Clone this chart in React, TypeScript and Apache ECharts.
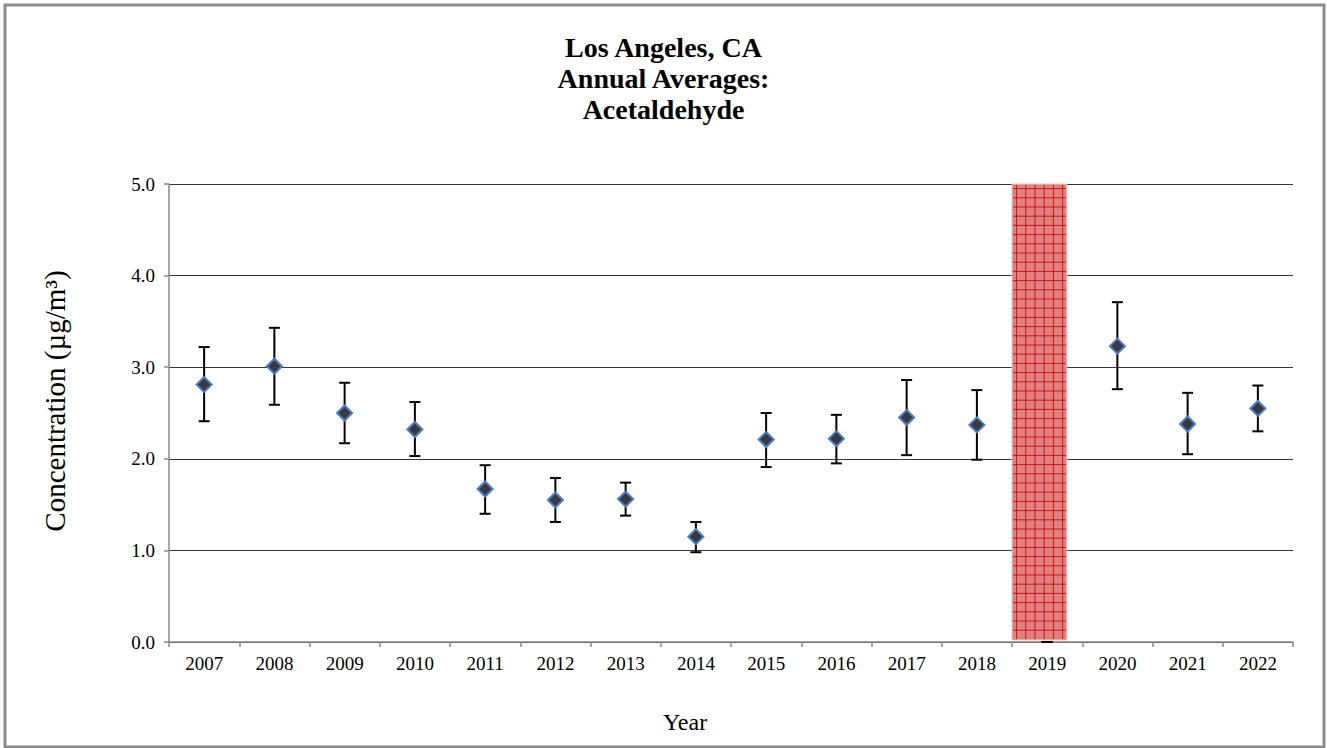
import React, { useEffect, useRef } from "react";
import * as echarts from "echarts";

const years = ["2007","2008","2009","2010","2011","2012","2013","2014","2015","2016","2017","2018","2019","2020","2021","2022"];
const means: (number | null)[] = [2.81, 3.01, 2.50, 2.32, 1.67, 1.55, 1.56, 1.15, 2.21, 2.22, 2.45, 2.37, null, 3.23, 2.38, 2.55];
const upper = [3.22, 3.43, 2.83, 2.62, 1.93, 1.79, 1.74, 1.31, 2.50, 2.48, 2.86, 2.75, 0, 3.71, 2.72, 2.80];
const lower = [2.41, 2.59, 2.17, 2.03, 1.40, 1.31, 1.38, 0.98, 1.91, 1.95, 2.04, 1.99, 0, 2.76, 2.05, 2.30];
const shadedYears = ["2019"];
const shadedTop = [5.0];
const yTicks = { min: 0, max: 5, interval: 1 };

const FONT = "Liberation Serif";

export default function App() {
  const ref = useRef<HTMLDivElement>(null);
  useEffect(() => {
    if (!ref.current) return;
    const chart = echarts.init(ref.current, undefined, { renderer: "svg" });
    const shadeData = shadedYears.map((y, i) => [years.indexOf(y), shadedTop[i]]);
    const errData = years.map((_, i) => [i, upper[i], lower[i]]);
    chart.setOption({
      animation: false,
      backgroundColor: "#fff",
      textStyle: { fontFamily: FONT },
      title: {
        text: "Los Angeles, CA\nAnnual Averages:\nAcetaldehyde",
        left: "center",
        top: 27,
        textStyle: { fontFamily: FONT, fontSize: 28, fontWeight: "bold", lineHeight: 31, color: "#000" },
      },
      graphic: [
        {
          type: "rect",
          shape: { x: 5, y: 5, width: 1319, height: 742 },
          style: { fill: "none", stroke: "#8c8c8c", lineWidth: 3 },
          silent: true,
        },
      ],
      grid: { left: 169, right: 34, top: 184, bottom: 106, containLabel: false },
      xAxis: {
        type: "category",
        data: years,
        boundaryGap: true,
        name: "Year",
        nameLocation: "middle",
        nameGap: 68,
        nameTextStyle: { fontFamily: FONT, fontSize: 24, color: "#000", padding: [0, 92, 0, 0] },
        axisLine: { lineStyle: { color: "#8a8a8a", width: 1.5 } },
        axisTick: { show: true, alignWithLabel: false, length: 5, lineStyle: { color: "#8a8a8a", width: 1.5 } },
        axisLabel: { fontFamily: FONT, fontSize: 19, color: "#000", margin: 12 },
        splitLine: { show: false },
      },
      yAxis: {
        type: "value",
        min: yTicks.min,
        max: yTicks.max,
        interval: yTicks.interval,
        name: "Concentration (µg/m³)",
        nameLocation: "middle",
        nameGap: 100,
        nameTextStyle: { fontFamily: FONT, fontSize: 29, color: "#000", padding: [0, 0, 0, 24] },
        axisLine: { show: true, lineStyle: { color: "#8a8a8a", width: 1.5 } },
        axisTick: { show: true, length: 5, lineStyle: { color: "#8a8a8a", width: 1.5 } },
        axisLabel: {
          fontFamily: FONT, fontSize: 19, color: "#000", margin: 14,
          formatter: (v: number) => v.toFixed(1),
        },
        splitLine: { show: true, lineStyle: { color: "#363636", width: 1 } },
      },
      series: [
        {
          type: "custom",
          name: "No data",
          z: 1,
          data: shadeData,
          renderItem: (params: any, api: any) => {
            const idx = api.value(0);
            const top = api.coord([idx, api.value(1)]);
            const bottom = api.coord([idx, 0]);
            const band = api.size([1, 0])[0];
            const left = top[0] - band / 2;
            const width = band * 0.78;
            const y0 = top[1];
            const y1 = bottom[1] - 2;
            const children: any[] = [
              {
                type: "rect",
                shape: { x: left, y: y0, width, height: y1 - y0 },
                style: { fill: "#e08080", stroke: "#e8c4b4", lineWidth: 1 },
              },
            ];
            const step = 9.2;
            for (let x = left + 4.6; x < left + width - 1; x += step) {
              children.push({
                type: "line",
                shape: { x1: x, y1: y0 + 1, x2: x, y2: y1 - 1 },
                style: { stroke: "#cc1414", lineWidth: 1 },
              });
            }
            for (let y = y0 + 4.6; y < y1 - 1; y += step) {
              children.push({
                type: "line",
                shape: { x1: left + 1, y1: y, x2: left + width - 1, y2: y },
                style: { stroke: "#cc1414", lineWidth: 1 },
              });
            }
            return { type: "group", children };
          },
        },
        {
          type: "custom",
          name: "Error",
          z: 3,
          data: errData,
          renderItem: (params: any, api: any) => {
            const idx = api.value(0);
            const hi = api.coord([idx, api.value(1)]);
            const lo = api.coord([idx, api.value(2)]);
            const cap = 5.5;
            const style = { stroke: "#000", lineWidth: 2 };
            return {
              type: "group",
              children: [
                { type: "line", shape: { x1: hi[0], y1: hi[1], x2: lo[0], y2: lo[1] }, style },
                { type: "line", shape: { x1: hi[0] - cap, y1: hi[1], x2: hi[0] + cap, y2: hi[1] }, style },
                { type: "line", shape: { x1: lo[0] - cap, y1: lo[1], x2: lo[0] + cap, y2: lo[1] }, style },
              ],
            };
          },
        },
        {
          type: "scatter",
          name: "Annual Average",
          z: 4,
          symbol: "diamond",
          symbolSize: 15,
          data: means.map((v) => (v === null ? "-" : v)),
          itemStyle: { color: "#3a3a3a", borderColor: "#4a7bd0", borderWidth: 2, opacity: 1 },
        },
      ],
    });
    return () => chart.dispose();
  }, []);
  return <div ref={ref} style={{ position: "fixed", left: 0, top: 0, width: 1327, height: 748 }} />;
}
